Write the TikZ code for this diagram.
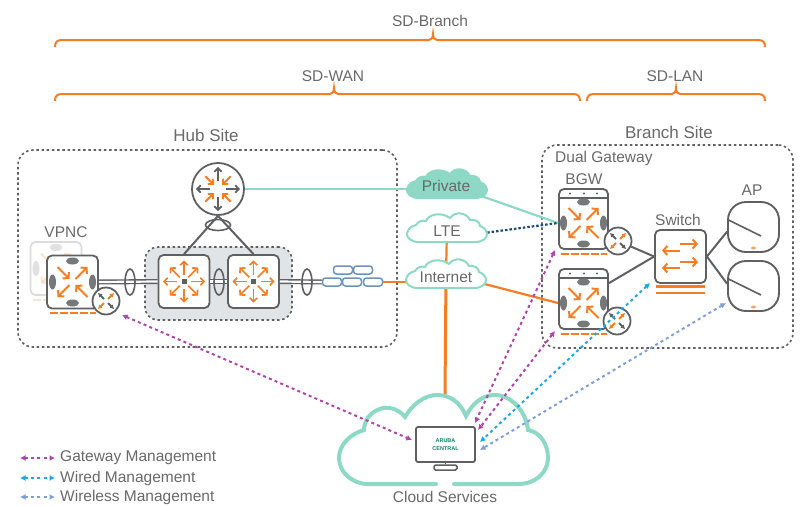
\documentclass[tikz,border=0pt]{standalone}
\usepackage{fontspec}
\setmainfont{Liberation Sans}
\usetikzlibrary{arrows.meta,shapes.geometric}
\definecolor{sdorange}{RGB}{245,125,35}
\definecolor{sdteal}{RGB}{142,216,198}
\definecolor{sdgray}{RGB}{95,96,98}
\definecolor{sdtext}{RGB}{105,105,105}
\definecolor{sdshade}{RGB}{225,228,230}
\definecolor{sdpurple}{RGB}{176,68,170}
\definecolor{sdblue}{RGB}{30,168,226}
\definecolor{sdpale}{RGB}{128,158,220}
\definecolor{sdnavy}{RGB}{28,76,124}
\definecolor{sdbrick}{RGB}{110,147,184}
\definecolor{sdgreen}{RGB}{15,130,105}
\newcommand{\sdspan}[4]{\draw[sdorange, line width=2pt] (#1,#4) .. controls (#1,#4-5) and (#1+2,#4-7) .. (#1+7,#4-7) -- (#2-4,#4-7) .. controls (#2-2,#4-7) and (#2,#4-9) .. (#2,#4-13) .. controls (#2,#4-9) and (#2+2,#4-7) .. (#2+4,#4-7) -- (#3-7,#4-7) .. controls (#3-2,#4-7) and (#3,#4-5) .. (#3,#4);}
\tikzset{
  lbl/.style={text=sdtext, font=\fontsize{15.5}{18}\selectfont, inner sep=0pt},
  sitebox/.style={draw=sdgray, line width=1.6pt, dash pattern=on 2.5pt off 2.7pt, rounded corners=15pt, inner sep=0pt},
  devbox/.style={draw=sdgray, line width=1.8pt, fill=white, rounded corners=5pt, inner sep=0pt, minimum width=51, minimum height=53},
  badge/.style={circle, draw=sdgray, line width=1.8pt, fill=white, inner sep=0pt, minimum size=27},
  apbox/.style={draw=sdgray, line width=1.9pt, fill=white, rounded corners=18pt, inner sep=0pt, minimum width=51, minimum height=50},
  lagring/.style={ellipse, draw=sdgray, line width=1.6pt, inner sep=0pt},
  brick/.style={draw=sdbrick, line width=1.5pt, fill=white, rounded corners=3pt, inner sep=0pt, minimum width=19, minimum height=8},
  trunk/.style={draw=sdgray, line width=1.4pt, double=white, double distance=2.2pt},
  gray link/.style={sdgray, line width=2pt},
  mgmt/.style={line width=2pt, dash pattern=on 3pt off 3.2pt, {Latex[length=5.5pt,width=6pt]}-{Latex[length=5.5pt,width=6pt]}},
  barb/.style={-{Straight Barb[length=4pt,width=9pt]}, line width=2pt, sdorange},
  thin barb/.style={barb, line width=1.6pt, -{Straight Barb[length=3.5pt,width=7.5pt]}},
  badge barb/.style={line width=2pt, -{Latex[length=4pt,width=5pt]}},
  gwicon/.pic={
    \foreach \sx/\sy in {-1/-1,1/1} \draw[barb] (\sx*15,\sy*15) -- (\sx*3,\sy*3);
    \foreach \sx/\sy in {1/-1,-1/1} \draw[barb] (\sx*3,\sy*3) -- (\sx*15,\sy*15);
    \fill[sdgray!85] (0,-21) ellipse (6.5 and 3.5) (0,21) ellipse (6.5 and 3.5) (-20,0) ellipse (3.5 and 7.5) (20,0) ellipse (3.5 and 7.5);
    \draw[sdorange, line width=2pt, dash pattern=on 8pt off 2pt] (-23,31) -- (23,31);
  },
  coreicon/.pic={
    \foreach \ang in {0,90,180,270} \draw[thin barb] (\ang:7) -- (\ang:21);
    \foreach \ang in {45,135,225,315} \draw[thin barb] (\ang:6) -- (\ang:20);
    \fill[sdgray] (-2.5,-2.5) rectangle (2.5,2.5);
  },
  badgeicon/.pic={
    \draw[badge barb, sdgray] (-2,-2) -- (-8,-8);
    \draw[badge barb, sdorange] (2,-2) -- (8,-8);
    \draw[badge barb, sdorange] (-2,2) -- (-8,8);
    \draw[badge barb, sdgray] (2,2) -- (8,8);
  },
  apicon/.pic={
    \draw[sdgray, line width=1.6pt] (-25,-7) -- (7.5,9);
    \fill[sdorange!70] (0,21) ellipse (2.5 and 1.5);
  },
  wancloud/.pic={
    \draw[sdteal, line width=2pt, fill=#1] (-28,14) .. controls (-36,14) and (-40,10) .. (-40,6) .. controls (-40,2) and (-36,-2) .. (-31,-3) .. controls (-29,-7) and (-24,-8) .. (-21,-7) .. controls (-19,-13) and (-7,-17) .. (3,-10) .. controls (8,-17) and (19,-16) .. (23,-8) .. controls (28,-9) and (33,-6) .. (33,-2) .. controls (37,-1) and (40,3) .. (40,6) .. controls (40,10) and (36,14) .. (28,14) -- cycle;
  }
}
\begin{document}
\begin{tikzpicture}[x=1pt, y=-1pt]
  \useasboundingbox (0,0) rectangle (805,506);

  \sdspan{55}{433}{765}{47}
  \sdspan{55}{334}{580}{101}
  \sdspan{587}{676}{765}{101}
  \node[lbl] (sdbranch) at (430,21) {SD-Branch};
  \node[lbl] (sdwan) at (333,76) {SD-WAN};
  \node[lbl] (sdlan) at (675,76) {SD-LAN};

  \node[lbl, font=\fontsize{17}{18}\selectfont] (hublbl) at (206,135) {Hub Site};
  \node[lbl, font=\fontsize{17}{18}\selectfont] (branchlbl) at (669,132) {Branch Site};
  \node[sitebox, minimum width=379, minimum height=197] (hubsite) at (207.5,248.5) {};
  \node[sitebox, minimum width=251, minimum height=203] (branchsite) at (667.5,246.5) {};
  \node[lbl, anchor=west, font=\fontsize{15.5}{18}\selectfont] (duallbl) at (555,158) {Dual Gateway};

  \node[sitebox, fill=sdshade, rounded corners=13pt, minimum width=147, minimum height=73] (cluster) at (218.5,283.5) {};

  \begin{scope}[opacity=0.22]
    \node[devbox] (vpncghost) at (56,268.5) {};
    \pic at (vpncghost) {gwicon};
  \end{scope}
  \node[lbl] (vpnclbl) at (66,232) {VPNC};
  \node[devbox] (vpnc) at (72.5,282) {};
  \node[devbox] (corea) at (184,281.5) {};
  \node[devbox] (coreb) at (253.5,281.5) {};
  \node[badge, minimum size=52] (hubrtr) at (218,189) {};
  \node[badge] (vpncbadge) at (106,301) {};

  \foreach \nm/\px/\py in {bricka/343/270, brickb/363/270, brickc/332/282, brickd/352/282, bricke/373/282}
    \node[brick] (\nm) at (\px,\py) {};

  \draw[trunk] (vpnc.east) -- (corea.west);
  \draw[trunk] (corea.east) -- (coreb.west);
  \draw[trunk] (coreb.east) -- (brickc.west);
  \draw[gray link] (hubrtr.south) -- (corea.north);
  \draw[gray link] (hubrtr.south) -- (coreb.north);
  \node[lagring, minimum width=10, minimum height=26] (laga) at (130,282) {};
  \node[lagring, minimum width=10, minimum height=26] (lagb) at (219,282) {};
  \node[lagring, minimum width=10, minimum height=26] (lagc) at (307,282) {};
  \node[lagring, minimum width=25, minimum height=11] (lagd) at (218,225) {};

  \pic at (vpnc) {gwicon};
  \pic at (corea) {coreicon};
  \pic at (coreb) {coreicon};
  \pic at (vpncbadge) {badgeicon};
  \foreach \ang in {0,90,180,270} \draw[thin barb, sdgray, line width=1.8pt] (hubrtr) ++(\ang:8) -- ++(\ang:14);
  \foreach \ang in {45,135,225,315} \draw[thin barb, line width=1.8pt] (hubrtr) ++(\ang:18) -- ++(\ang:-12);

  \node[devbox, minimum width=49, minimum height=60] (bgwa) at (583.5,219) {};
  \node[devbox, minimum width=49, minimum height=60] (bgwb) at (583.5,299) {};
  \draw[sdgray, line width=1.5pt] (559,198) -- (608,198) (559,278) -- (608,278);
  \foreach \px in {570,584,597} \fill[sdgray] (\px,193.5) circle (1.2) (\px,273.5) circle (1.2);
  \coordinate (bgwaicon) at (583.5,223);
  \coordinate (bgwbicon) at (583.5,303);
  \pic at (bgwaicon) {gwicon};
  \pic at (bgwbicon) {gwicon};
  \node[lbl] (bgwlbl) at (584,179) {BGW};
  \node[badge] (bgwabadge) at (618,241) {};
  \node[badge] (bgwbbadge) at (617,321) {};
  \pic at (bgwabadge) {badgeicon};
  \pic at (bgwbbadge) {badgeicon};

  \node[devbox] (switch) at (680.5,256.5) {};
  \node[lbl] (switchlbl) at (678,220) {Switch};
  \draw[barb] (680,244) -- (698,244);
  \draw[barb] (680,250.5) -- (662,250.5);
  \draw[barb] (680,262) -- (698,262);
  \draw[barb] (680,268) -- (662,268);
  \draw[sdorange, line width=2.4pt] (656,286.5) -- (705,286.5) (656,293) -- (705,293);

  \node[lbl] (aplbl) at (752,190) {AP};
  \node[apbox] (apa) at (753.5,227) {};
  \node[apbox] (apb) at (753.5,286) {};
  \pic at (apa) {apicon};
  \pic at (apb) {apicon};
  \draw[gray link] (bgwabadge) -- (switch.west);
  \draw[gray link] (bgwb.32) -- (switch.west);
  \draw[gray link] (switch.east) -- (apa.190);
  \draw[gray link] (switch.east) -- (apb.175);

  \coordinate (private) at (447,184);
  \coordinate (privatein) at (430,189);
  \coordinate (lte) at (447,228);
  \coordinate (lteout) at (447,238);
  \coordinate (internet) at (446,274);
  \coordinate (internetin) at (430,282);
  \coordinate (cloudtop) at (445,396);
  \coordinate (bgwaport) at (558,223);
  \coordinate (bgwbport) at (558,303);
  \draw[sdteal, line width=2.6pt] (hubrtr.east) -- (privatein);
  \draw[sdteal, line width=2.2pt] (private) -- (bgwaport);
  \draw[sdnavy, line width=2.2pt, dash pattern=on 2.5pt off 2pt] (lteout) -- (bgwaport);
  \draw[sdorange, line width=2.2pt] (lte) -- (internet);
  \draw[sdorange, line width=2.2pt] (bricke.east) -- (internetin);
  \draw[sdorange, line width=2.2pt] (internet) -- (bgwbport);
  \draw[sdorange, line width=3pt] (internet) -- (cloudtop);
  \pic at (private) {wancloud=sdteal};
  \pic at (lte) {wancloud=white};
  \pic at (internet) {wancloud=white};
  \node[lbl] (privatelbl) at (446,186) {Private};
  \node[lbl] (ltelbl) at (447,231) {LTE};
  \node[lbl] (internetlbl) at (446,277) {Internet};

  \draw[sdteal, line width=4pt, line cap=round] (454,484) -- (518,484) .. controls (536,484) and (548,472) .. (548,458) .. controls (548,444) and (540,432) .. (528,430) .. controls (526,410) and (510,395) .. (495,395) .. controls (482,395) and (472,404) .. (466,416) .. controls (460,402) and (450,395) .. (437,395) .. controls (424,395) and (412,405) .. (405,417) .. controls (398,408) and (386,406) .. (380,409) .. controls (370,412) and (364,421) .. (364,430) .. controls (350,434) and (339,445) .. (339,458) .. controls (339,472) and (352,484) .. (368,484) -- (436,484);
  \node[devbox, rounded corners=2pt, minimum width=59, minimum height=35, align=center, text=sdgreen, font=\fontsize{5.5}{7.5}\selectfont\bfseries] (central) at (445.5,444.5) {ARUBA\\CENTRAL};
  \node[draw=sdgray, line width=1.5pt, rounded corners=1.5pt, inner sep=0pt, minimum width=23, minimum height=5] (stand) at (445.5,467.5) {};
  \draw[sdgray, line width=1.5pt] (central.south) -- (stand.north);
  \node[lbl] (cloudlbl) at (445,497) {Cloud Services};

  \coordinate (centralgwa) at (475,423);
  \coordinate (centralgwb) at (478,430);
  \coordinate (centralgwc) at (412,440);
  \coordinate (centralwired) at (480,442);
  \coordinate (centralap) at (480,450);
  \coordinate (vpncmgmt) at (122,315);
  \coordinate (bgwamgmt) at (555,250);
  \coordinate (bgwbmgmt) at (555,331);
  \coordinate (switchmgmt) at (650,283);
  \coordinate (apmgmt) at (726,303);
  \draw[mgmt, sdpurple] (vpncmgmt) -- (centralgwc);
  \draw[mgmt, sdpurple] (bgwamgmt) -- (centralgwa);
  \draw[mgmt, sdpurple] (bgwbmgmt) -- (centralgwb);
  \draw[mgmt, sdblue] (switchmgmt) -- (centralwired);
  \draw[mgmt, sdpale] (apmgmt) -- (centralap);

  \foreach \nm/\py/\col/\txt in {gwmgmt/458/sdpurple/Gateway Management, wiredmgmt/478/sdblue/Wired Management, wlmgmt/497/sdpale/Wireless Management} {
    \coordinate (\nm a) at (20,\py);
    \coordinate (\nm b) at (55,\py);
    \draw[mgmt, \col] (\nm a) -- (\nm b);
    \node[lbl, anchor=west] (\nm lbl) at (60,\py) {\txt};
  }
\end{tikzpicture}
\end{document}
